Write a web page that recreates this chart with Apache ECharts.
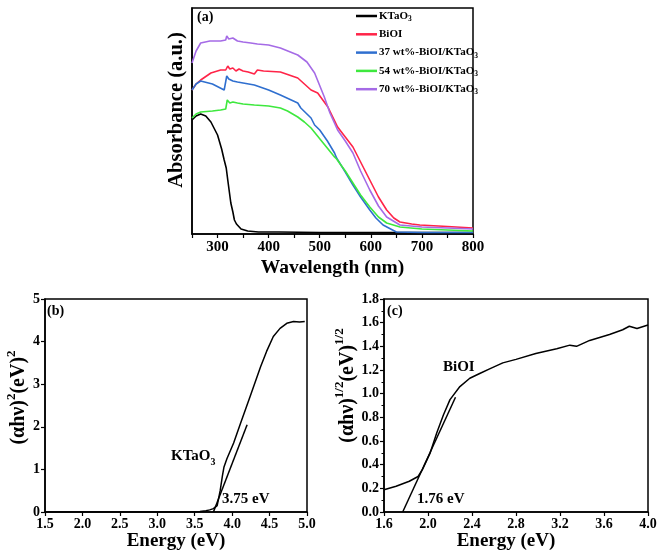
<!DOCTYPE html>
<html>
<head>
<meta charset="utf-8">
<script src="https://cdn.jsdelivr.net/npm/echarts@6/dist/echarts.min.js"></script>
<style>html,body{margin:0;padding:0;background:#fff;}#c{width:661px;height:557px;}</style>
</head>
<body>
<div id="c"></div>
<script>
// ---- Panel (a): UV-vis absorbance spectra ----
const ktaoWl  = [250, 258, 267, 277, 287, 300, 308, 313, 317, 320, 326, 330, 333, 337, 346, 359, 380, 420, 500, 600, 700, 800];
const ktaoAbs = [1.14, 1.18, 1.20, 1.18, 1.12, 0.99, 0.85, 0.74, 0.66, 0.54, 0.31, 0.22, 0.14, 0.10, 0.05, 0.03, 0.02, 0.02, 0.015, 0.015, 0.015, 0.015];

const bioiWl  = [250, 258, 267, 287, 306, 316, 320, 324, 330, 336, 342, 350, 360, 372, 378, 390, 423, 457, 483, 496, 516, 535, 550, 565, 580, 598, 615, 631, 645, 657, 680, 696, 750, 800];
const bioiAbs = [1.44, 1.50, 1.54, 1.61, 1.64, 1.64, 1.68, 1.65, 1.66, 1.63, 1.65, 1.63, 1.62, 1.60, 1.64, 1.63, 1.62, 1.56, 1.44, 1.41, 1.27, 1.07, 0.97, 0.87, 0.72, 0.54, 0.37, 0.24, 0.16, 0.12, 0.10, 0.09, 0.075, 0.06];

const b37Wl  = [250, 258, 267, 290, 313, 316, 318, 322, 330, 339, 350, 372, 400, 423, 457, 463, 483, 490, 500, 515, 529, 533, 550, 565, 580, 598, 610, 624, 650, 700, 800];
const b37Abs = [1.44, 1.50, 1.53, 1.50, 1.44, 1.46, 1.58, 1.55, 1.53, 1.52, 1.51, 1.49, 1.44, 1.39, 1.31, 1.26, 1.16, 1.09, 1.04, 0.93, 0.81, 0.76, 0.62, 0.49, 0.37, 0.24, 0.16, 0.09, 0.02, 0.015, 0.015];

const b54Wl  = [250, 258, 267, 290, 306, 316, 319, 324, 330, 339, 350, 372, 400, 423, 437, 457, 470, 483, 502, 529, 533, 550, 565, 580, 598, 615, 631, 657, 700, 800];
const b54Abs = [1.16, 1.20, 1.22, 1.23, 1.24, 1.25, 1.34, 1.31, 1.32, 1.31, 1.30, 1.29, 1.28, 1.26, 1.23, 1.17, 1.12, 1.06, 0.94, 0.77, 0.75, 0.63, 0.51, 0.39, 0.27, 0.17, 0.11, 0.07, 0.05, 0.03];

const b70Wl  = [250, 258, 267, 285, 306, 316, 318, 322, 330, 339, 350, 365, 378, 400, 423, 457, 475, 490, 509, 520, 535, 550, 565, 580, 598, 615, 631, 657, 700, 800];
const b70Abs = [1.71, 1.83, 1.91, 1.93, 1.93, 1.94, 1.98, 1.95, 1.96, 1.93, 1.92, 1.91, 1.90, 1.89, 1.86, 1.79, 1.72, 1.61, 1.37, 1.21, 1.04, 0.93, 0.81, 0.63, 0.44, 0.28, 0.17, 0.09, 0.07, 0.05];

// ---- Panel (b): Tauc plot KTaO3 ----
const kEnergy = [1.5, 2.0, 2.5, 3.0, 3.4, 3.57, 3.65, 3.70, 3.75, 3.80, 3.84, 3.87, 3.89, 3.93, 4.02, 4.11, 4.24, 4.38, 4.46, 4.55, 4.64, 4.73, 4.82, 4.90, 4.97];
const kTauc   = [0, 0, 0, 0, 0, 0.01, 0.03, 0.05, 0.08, 0.15, 0.50, 0.85, 1.05, 1.25, 1.62, 2.07, 2.71, 3.41, 3.77, 4.12, 4.31, 4.43, 4.47, 4.46, 4.47];
const kFitE = [3.75, 4.20];
const kFitY = [0, 2.05];

// ---- Panel (c): Tauc plot BiOI ----
const bEnergy = [1.60, 1.71, 1.83, 1.91, 1.95, 2.02, 2.08, 2.14, 2.20, 2.29, 2.38, 2.47, 2.56, 2.68, 2.80, 2.98, 3.17, 3.29, 3.35, 3.47, 3.65, 3.77, 3.83, 3.90, 4.00];
const bTauc   = [0.188, 0.217, 0.26, 0.30, 0.36, 0.50, 0.67, 0.82, 0.95, 1.06, 1.13, 1.17, 1.21, 1.26, 1.29, 1.34, 1.38, 1.41, 1.40, 1.45, 1.50, 1.54, 1.57, 1.55, 1.58];
const bFitE = [1.77, 2.25];
const bFitY = [0, 0.97];

const legendNames = ['KTaO3', 'BiOI', '37 wt%-BiOI/KTaO3', '54 wt%-BiOI/KTaO3', '70 wt%-BiOI/KTaO3'];
const colors = ['#000000', '#ff2448', '#2f6fcf', '#3ee83e', '#a56be6'];

const zip = (a, b) => a.map((v, i) => [v, b[i]]);
const F = 'Liberation Serif';

const chart = echarts.init(document.getElementById('c'), null, {renderer: 'canvas'});

function axisCommon(extra) {
  return Object.assign({
    axisLine: {onZero: false, lineStyle: {color: '#000', width: 1.5}},
    axisTick: {inside: false, length: 4, lineStyle: {color: '#000', width: 1.2}},
    axisLabel: {color: '#000', fontFamily: F, fontWeight: 'bold', fontSize: 15, margin: 5},
    splitLine: {show: false},
    nameLocation: 'middle',
    nameTextStyle: {color: '#000', fontFamily: F, fontWeight: 'bold', fontSize: 19}
  }, extra);
}

function supRich() {
  return {
    n: {fontFamily: F, fontWeight: 'bold', fontSize: 20, color: '#000'},
    s: {fontFamily: F, fontWeight: 'bold', fontSize: 13, color: '#000', verticalAlign: 'top', lineHeight: 28}
  };
}

const option = {
  animation: false,
  backgroundColor: '#fff',
  grid: [
    {left: 192, top: 8, width: 281, height: 226, show: true, borderColor: '#000', borderWidth: 1.5},
    {left: 45, top: 299, width: 262, height: 213, show: true, borderColor: '#000', borderWidth: 1.5},
    {left: 384, top: 299, width: 264, height: 213, show: true, borderColor: '#000', borderWidth: 1.5}
  ],
  xAxis: [
    axisCommon({gridIndex: 0, type: 'value', min: 250, max: 800, interval: 50,
      axisLabel: {color: '#000', fontFamily: F, fontWeight: 'bold', fontSize: 15, margin: 6,
        formatter: v => (v % 100 === 0 ? String(v) : '')},
      name: 'Wavelength (nm)', nameGap: 24,
      nameTextStyle: {color: '#000', fontFamily: F, fontWeight: 'bold', fontSize: 19.5}}),
    axisCommon({gridIndex: 1, type: 'value', min: 1.5, max: 5.0, interval: 0.5,
      axisLabel: {color: '#000', fontFamily: F, fontWeight: 'bold', fontSize: 14, margin: 5,
        formatter: v => v.toFixed(1)},
      name: 'Energy (eV)', nameGap: 18}),
    axisCommon({gridIndex: 2, type: 'value', min: 1.6, max: 4.0, interval: 0.4,
      axisLabel: {color: '#000', fontFamily: F, fontWeight: 'bold', fontSize: 14, margin: 5,
        formatter: v => v.toFixed(1)},
      name: 'Energy (eV)', nameGap: 18,
      nameTextStyle: {color: '#000', fontFamily: F, fontWeight: 'bold', fontSize: 19, padding: [0, 20, 0, 0]}})
  ],
  yAxis: [
    axisCommon({gridIndex: 0, type: 'value', min: 0, max: 2.26,
      axisTick: {show: false}, axisLabel: {show: false},
      name: 'Absorbance (a.u.)', nameGap: 5,
      nameTextStyle: {color: '#000', fontFamily: F, fontWeight: 'bold', fontSize: 20.5, padding: [0, 0, 0, 22]}}),
    axisCommon({gridIndex: 1, type: 'value', min: 0, max: 5, interval: 1,
      axisLabel: {color: '#000', fontFamily: F, fontWeight: 'bold', fontSize: 14, margin: 5},
      name: '{n|(αhν)}{s|2}{n|(eV)}{s|2}', nameGap: 11,
      nameTextStyle: {color: '#000', fontFamily: F, fontWeight: 'bold', fontSize: 20, padding: [0, 0, 0, 16], rich: supRich()}}),
    axisCommon({gridIndex: 2, type: 'value', min: 0, max: 1.8, interval: 0.2,
      minorTick: {show: true, splitNumber: 2, length: 2.5, lineStyle: {color: '#000'}},
      axisLabel: {color: '#000', fontFamily: F, fontWeight: 'bold', fontSize: 14, margin: 5,
        formatter: v => v.toFixed(1)},
      name: '{n|(αhν)}{s|1/2}{n|(eV)}{s|1/2}', nameGap: 21,
      nameTextStyle: {color: '#000', fontFamily: F, fontWeight: 'bold', fontSize: 20, padding: [0, 0, 0, 40], rich: supRich()}})
  ],
  legend: {
    orient: 'vertical', left: 351, top: 4, itemWidth: 21, itemHeight: 2.5, itemGap: 4.3,
    icon: 'rect',
    data: legendNames,
    formatter: name => (name.endsWith('O3') ? '{b|' + name.slice(0, -1) + '}{s|3}' : '{b|' + name + '}'),
    textStyle: {
      color: '#000', fontFamily: F, fontWeight: 'bold', fontSize: 11, padding: [0, 0, 0, -3], lineHeight: 14,
      rich: {
        b: {fontFamily: F, fontWeight: 'bold', fontSize: 11, color: '#000', lineHeight: 14},
        s: {fontFamily: F, fontWeight: 'bold', fontSize: 7.5, color: '#000', verticalAlign: 'bottom', lineHeight: 14}
      }
    }
  },
  series: [
    {name: legendNames[0], type: 'line', xAxisIndex: 0, yAxisIndex: 0, data: zip(ktaoWl, ktaoAbs), symbol: 'none', lineStyle: {width: 1.6}, color: colors[0]},
    {name: legendNames[1], type: 'line', xAxisIndex: 0, yAxisIndex: 0, data: zip(bioiWl, bioiAbs), symbol: 'none', lineStyle: {width: 1.6}, color: colors[1]},
    {name: legendNames[2], type: 'line', xAxisIndex: 0, yAxisIndex: 0, data: zip(b37Wl, b37Abs), symbol: 'none', lineStyle: {width: 1.6}, color: colors[2]},
    {name: legendNames[3], type: 'line', xAxisIndex: 0, yAxisIndex: 0, data: zip(b54Wl, b54Abs), symbol: 'none', lineStyle: {width: 1.6}, color: colors[3]},
    {name: legendNames[4], type: 'line', xAxisIndex: 0, yAxisIndex: 0, data: zip(b70Wl, b70Abs), symbol: 'none', lineStyle: {width: 1.6}, color: colors[4]},
    {type: 'line', xAxisIndex: 1, yAxisIndex: 1, data: zip(kEnergy, kTauc), symbol: 'none', lineStyle: {width: 1.5, color: '#000'}, color: '#000'},
    {type: 'line', xAxisIndex: 1, yAxisIndex: 1, data: zip(kFitE, kFitY), symbol: 'none', lineStyle: {width: 1.5, color: '#000'}, color: '#000'},
    {type: 'line', xAxisIndex: 2, yAxisIndex: 2, data: zip(bEnergy, bTauc), symbol: 'none', lineStyle: {width: 1.5, color: '#000'}, color: '#000'},
    {type: 'line', xAxisIndex: 2, yAxisIndex: 2, data: zip(bFitE, bFitY), symbol: 'none', lineStyle: {width: 1.5, color: '#000'}, color: '#000'}
  ],
  graphic: [
    {type: 'text', left: 197, top: 10, style: {text: '(a)', fill: '#000', font: 'bold 14px "Liberation Serif"'}},
    {type: 'text', left: 47, top: 304, style: {text: '(b)', fill: '#000', font: 'bold 14px "Liberation Serif"'}},
    {type: 'text', left: 387, top: 304, style: {text: '(c)', fill: '#000', font: 'bold 14px "Liberation Serif"'}},
    {type: 'text', left: 171, top: 449, style: {text: '{b|KTaO}{s|3}', fill: '#000',
      rich: {b: {fontFamily: F, fontWeight: 'bold', fontSize: 15, fill: '#000'},
             s: {fontFamily: F, fontWeight: 'bold', fontSize: 10, fill: '#000', verticalAlign: 'bottom', lineHeight: 22}}}},
    {type: 'text', left: 222, top: 492, style: {text: '3.75 eV', fill: '#000', font: 'bold 15px "Liberation Serif"'}},
    {type: 'text', left: 443, top: 360, style: {text: 'BiOI', fill: '#000', font: 'bold 15px "Liberation Serif"'}},
    {type: 'text', left: 417, top: 492, style: {text: '1.76 eV', fill: '#000', font: 'bold 15px "Liberation Serif"'}}
  ]
};
chart.setOption(option);
</script>
</body>
</html>
